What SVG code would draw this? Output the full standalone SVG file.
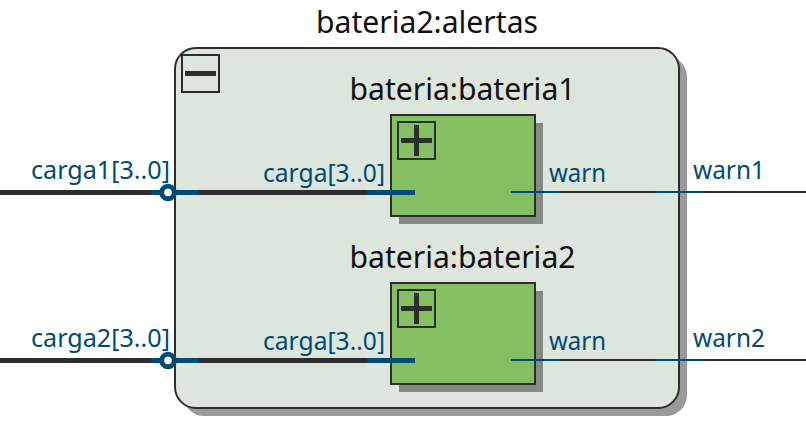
<svg xmlns="http://www.w3.org/2000/svg" width="806" height="423" viewBox="0 0 806 423">
<style>
text{font-family:"Noto Sans","Open Sans",sans-serif}
.t{font-size:31px;fill:#111}
.p{font-size:24.5px;fill:#004a73}
.box{stroke:#2d2d2d;stroke-width:2;fill:none}
.dk{fill:#2d2d2d}
.bl{fill:#004a73}
.ring{fill:#fff;stroke:#004a73;stroke-width:5}
.block{fill:#84c062;stroke:#2d2d2d;stroke-width:2}
.shade{fill:#868a84}
</style>
<rect width="806" height="423" fill="#fff"/>
<g id="alertas">
<rect x="183" y="56" width="504" height="360" rx="21" fill="#999"/>
<rect x="175" y="48" width="504" height="360" rx="21" fill="#dce6dd" stroke="#2d2d2d" stroke-width="2"/>
<text class="t" x="427" y="33" text-anchor="middle" textLength="222" lengthAdjust="spacingAndGlyphs">bateria2:alertas</text>
<g id="collapse">
<rect class="box" x="182" y="55" width="37" height="37"/>
<rect class="dk" x="185" y="71" width="31" height="5"/>
</g>
</g>
<g id="bateria1">
<rect class="shade" x="399" y="123" width="144" height="101"/>
<rect class="block" x="391" y="115" width="144" height="101"/>
<rect class="box" x="398" y="122" width="37" height="37"/>
<rect class="dk" x="401" y="138" width="31" height="5"/>
<rect class="dk" x="414" y="125" width="5" height="31"/>
<text class="t" x="462.500" y="100" text-anchor="middle" textLength="226" lengthAdjust="spacingAndGlyphs">bateria:bateria1</text>
</g>
<g id="bateria2">
<rect class="shade" x="399" y="291" width="144" height="101"/>
<rect class="block" x="391" y="283" width="144" height="101"/>
<rect class="box" x="398" y="290" width="37" height="37"/>
<rect class="dk" x="401" y="306" width="31" height="5"/>
<rect class="dk" x="414" y="293" width="5" height="31"/>
<text class="t" x="462.500" y="268" text-anchor="middle" textLength="226" lengthAdjust="spacingAndGlyphs">bateria:bateria2</text>
</g>
<g id="connectors">
<rect class="dk" x="0" y="190" width="367" height="5"/>
<rect class="bl" x="151" y="190" width="48" height="5"/>
<rect class="bl" x="367" y="190" width="48" height="5"/>
<rect class="dk" x="0" y="358" width="367" height="5"/>
<rect class="bl" x="151" y="358" width="48" height="5"/>
<rect class="bl" x="367" y="358" width="48" height="5"/>
<rect class="bl" x="511" y="191" width="48" height="2"/>
<rect class="dk" x="559" y="191" width="96" height="2"/>
<rect class="bl" x="655" y="191" width="48" height="2"/>
<rect class="dk" x="703" y="191" width="103" height="2"/>
<rect class="bl" x="511" y="359" width="48" height="2"/>
<rect class="dk" x="559" y="359" width="96" height="2"/>
<rect class="bl" x="655" y="359" width="48" height="2"/>
<rect class="dk" x="703" y="359" width="103" height="2"/>
</g>
<g id="pin-carga1"><circle class="ring" cx="168" cy="192.500" r="6.300"/><text class="p" x="31" y="179" textLength="139" lengthAdjust="spacingAndGlyphs">carga1[3..0]</text></g>
<g id="pin-carga2"><circle class="ring" cx="168" cy="360.500" r="6.300"/><text class="p" x="31" y="347" textLength="139" lengthAdjust="spacingAndGlyphs">carga2[3..0]</text></g>
<g id="labels">
<text class="p" x="263" y="182" textLength="122" lengthAdjust="spacingAndGlyphs">carga[3..0]</text>
<text class="p" x="263" y="350" textLength="122" lengthAdjust="spacingAndGlyphs">carga[3..0]</text>
<text class="p" x="549" y="182" textLength="57" lengthAdjust="spacingAndGlyphs">warn</text>
<text class="p" x="549" y="350" textLength="57" lengthAdjust="spacingAndGlyphs">warn</text>
<text class="p" x="693" y="179" textLength="72" lengthAdjust="spacingAndGlyphs">warn1</text>
<text class="p" x="693" y="347" textLength="72" lengthAdjust="spacingAndGlyphs">warn2</text>
</g>
</svg>
